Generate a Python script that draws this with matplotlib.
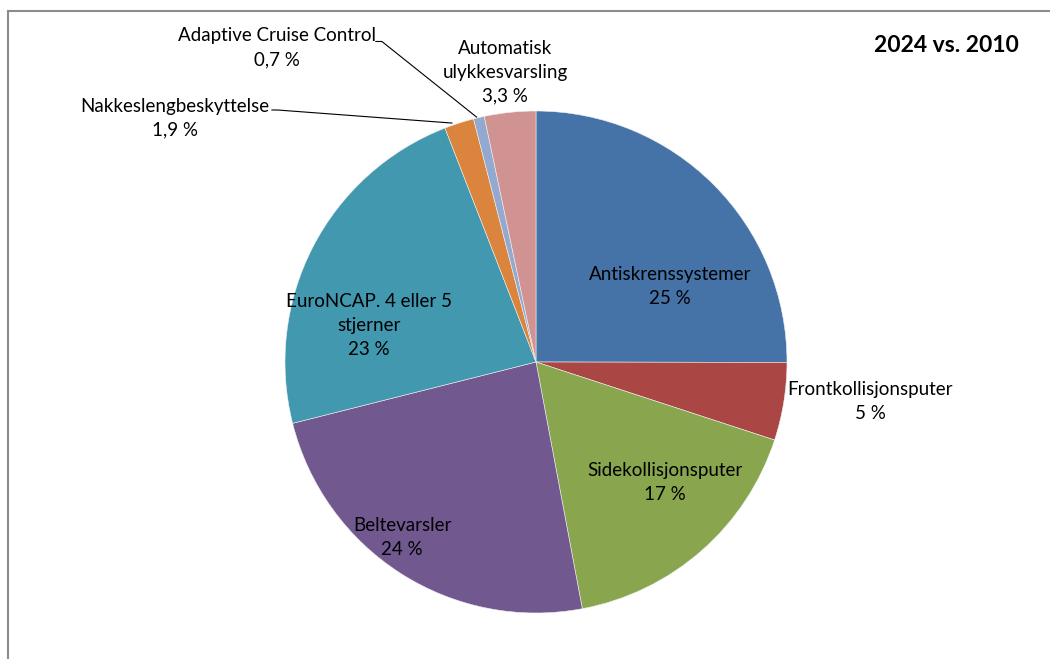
import matplotlib.pyplot as plt
from matplotlib.lines import Line2D

# data
categories = ['Antiskrenssystemer', 'Frontkollisjonsputer', 'Sidekollisjonsputer',
              'Beltevarsler', 'EuroNCAP. 4 eller 5\nstjerner', 'Nakkeslengbeskyttelse',
              'Adaptive Cruise Control', 'Automatisk\nulykkesvarsling']
values = [25, 5, 17, 24, 23, 1.9, 0.7, 3.3]
colors = ['#4572A7', '#AA4643', '#89A54E', '#71588F', '#4198AF', '#DB843D', '#93A9CF', '#D19392']

# label positions (unit = pie radius) and leader line start points
label_pos = [(0.534, 0.299), (1.331, -0.159), (0.514, -0.482), (-0.534, -0.701),
             (-0.665, 0.147), (-1.438, 0.972), (-1.032, 1.251), (-0.124, 1.155)]
leaders = {5: [(-1.052, 1.004), (-1.030, 1.004), (-0.335, 0.952)],
           6: [(-0.638, 1.277), (-0.614, 1.277), (-0.237, 0.976)]}


def fmt(v):
    s = ('%g' % v).replace('.', ',')
    return s + ' %'


plt.rcParams['font.family'] = ['Lato', 'DejaVu Sans']

fig = plt.figure(figsize=(10.5, 6.59), dpi=100)
ax = fig.add_axes([0, 0, 1, 1])

wedges, _ = ax.pie(values, colors=colors, startangle=90, counterclock=False,
                   radius=1, wedgeprops=dict(linewidth=0.4, edgecolor='#f0f0f0'))

for i, (name, v) in enumerate(zip(categories, values)):
    x, y = label_pos[i]
    ax.text(x, y, name + '\n' + fmt(v), ha='center', va='center', multialignment='center',
            fontsize=13.5, color='black', linespacing=1.5)

for pts in leaders.values():
    xs, ys = zip(*pts)
    ax.plot(xs, ys, color='black', lw=0.8)

ax.set_aspect('auto')
ax.set_xlim(-536 / 251, (1050 - 536) / 251)
ax.set_ylim(-(659 - 362) / 251, 362 / 251)
ax.axis('off')

fig.text(946 / 1050, 1 - 45 / 659, '2024 vs. 2010', ha='center', va='center',
         fontsize=16.5, fontweight='bold')

# chart border (only left and top visible)
fig.add_artist(Line2D([8 / 1050, 8 / 1050], [0, 1 - 11 / 659], transform=fig.transFigure,
                      color='#8c8c8c', lw=1.5))
fig.add_artist(Line2D([8 / 1050, 1], [1 - 11 / 659, 1 - 11 / 659], transform=fig.transFigure,
                      color='#8c8c8c', lw=1.5))

fig.savefig('out.png', dpi=100)
